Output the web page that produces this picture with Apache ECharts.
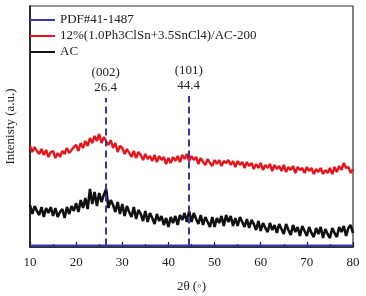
<!DOCTYPE html>
<html>
<head>
<meta charset="utf-8">
<script src="https://cdn.jsdelivr.net/npm/echarts@6/dist/echarts.min.js"></script>
<style>
  html, body { margin: 0; padding: 0; background: #fff; }
  #chart { width: 366px; height: 296px; }
</style>
</head>
<body>
<div id="chart"></div>
<script>
// intensities in arbitrary units, sampled every 0.5 degree from 10 to 80
const redIntensity = [
  101, 95, 100, 96, 93, 98, 92, 97, 90, 95,
  96, 89, 94, 90, 96, 93, 99, 94, 97, 100,
  102, 96, 104, 99, 106, 101, 109, 104, 111, 106,
  113, 104, 110, 106, 102, 107, 99, 104, 95, 101,
  99, 93, 98, 94, 90, 96, 89, 95, 92, 87,
  93, 88, 91, 86, 92, 85, 91, 87, 90, 83,
  89, 84, 90, 86, 91, 85, 92, 88, 93, 86,
  91, 87, 90, 83, 89, 85, 82, 88, 84, 81,
  87, 83, 87, 81, 86, 84, 87, 82, 86, 80,
  86, 82, 85, 79, 85, 81, 84, 78, 83, 79,
  84, 77, 82, 79, 83, 76, 82, 78, 81, 76,
  82, 75, 80, 77, 81, 74, 80, 77, 79, 74,
  80, 76, 79, 73, 78, 75, 79, 73, 77, 74,
  79, 73, 80, 75, 81, 77, 84, 79, 80, 74,
  78
]
const blackIntensity = [
  42, 33, 41, 36, 32, 40, 30, 39, 34, 40,
  31, 39, 30, 35, 38, 29, 40, 33, 41, 36,
  44, 35, 47, 39, 49, 38, 58, 43, 55, 41,
  54, 45, 52, 58, 39, 47, 42, 35, 45, 33,
  43, 31, 41, 35, 30, 40, 28, 37, 33, 26,
  36, 25, 34, 29, 23, 33, 26, 31, 22, 29,
  20, 30, 24, 31, 22, 32, 27, 34, 25, 36,
  25, 34, 28, 23, 32, 22, 30, 25, 20, 30,
  20, 29, 24, 31, 21, 32, 25, 31, 21, 29,
  21, 30, 25, 20, 28, 19, 27, 23, 17, 26,
  16, 24, 19, 15, 24, 17, 22, 14, 23, 18,
  13, 23, 17, 12, 22, 15, 20, 11, 21, 16,
  11, 20, 14, 10, 19, 13, 20, 9, 18, 13,
  9, 19, 14, 10, 20, 15, 21, 11, 19, 22,
  14
]
const twoTheta = redIntensity.map((_, i) => 10 + i * 0.5)

const pdfBaseline = [[10, 1.5], [80, 1.5]]
const pdfPeaks = [
  { pos: 26.4, top: 149, label: '(002)\n26.4' },
  { pos: 44.4, top: 151, label: '(101)\n44.4' },
]

const PDF_COLOR = '#3438b8'
const RED_COLOR = '#e8141c'
const BLACK_COLOR = '#111111'
const FONT = '"Liberation Serif", "Times New Roman", serif'

const chart = echarts.init(document.getElementById('chart'))
chart.setOption({
  animation: false,
  textStyle: { fontFamily: FONT },
  grid: {
    left: 30,
    right: 13,
    top: 6,
    bottom: 49,
    outerBoundsMode: 'none',
    show: true,
    borderColor: '#333',
    borderWidth: 1.2,
  },
  legend: {
    orient: 'vertical',
    left: 30,
    top: 12,
    padding: 0,
    icon: 'rect',
    itemWidth: 25,
    itemHeight: 2,
    itemGap: 0,
    textStyle: { fontFamily: FONT, fontSize: 13, color: '#222', lineHeight: 16 },
    data: ['PDF#41-1487', '12%(1.0Ph3ClSn+3.5SnCl4)/AC-200', 'AC'],
  },
  xAxis: {
    type: 'value',
    min: 10,
    max: 80,
    interval: 10,
    name: '2θ (◦)',
    nameLocation: 'middle',
    nameGap: 33,
    nameTextStyle: { fontFamily: FONT, fontSize: 13, color: '#222' },
    axisLine: { lineStyle: { color: '#111', width: 1.5 } },
    axisTick: { inside: true, length: 5, lineStyle: { color: '#111', width: 1.2 } },
    minorTick: { show: true, splitNumber: 2, length: 3, lineStyle: { color: '#111', width: 1.2 } },
    axisLabel: { fontFamily: FONT, fontSize: 13, color: '#222', margin: 9 },
    splitLine: { show: false },
  },
  yAxis: {
    type: 'value',
    min: 0,
    max: 241,
    name: 'Intenisty (a.u.)',
    nameLocation: 'middle',
    nameGap: 13,
    nameTextStyle: { fontFamily: FONT, fontSize: 13, color: '#222' },
    axisLine: { show: true, lineStyle: { color: '#111', width: 1.5 } },
    axisTick: { show: false },
    axisLabel: { show: false },
    splitLine: { show: false },
  },
  series: [
    {
      name: 'PDF#41-1487',
      type: 'line',
      symbol: 'none',
      data: pdfBaseline,
      lineStyle: { color: PDF_COLOR, width: 2 },
      itemStyle: { color: PDF_COLOR },
      z: 4,
      markLine: {
        silent: true,
        symbol: 'none',
        lineStyle: { color: PDF_COLOR, width: 2, type: [7, 4] },
        label: {
          show: true,
          position: 'end',
          distance: 3,
          fontFamily: FONT,
          fontSize: 13,
          lineHeight: 15,
          color: '#222',
          formatter: (p) => p.data.labelText,
        },
        data: pdfPeaks.map((pk) => [
          { coord: [pk.pos, 1.5], labelText: pk.label },
          { coord: [pk.pos, pk.top], labelText: pk.label },
        ]),
      },
    },
    {
      name: '12%(1.0Ph3ClSn+3.5SnCl4)/AC-200',
      type: 'line',
      symbol: 'none',
      data: twoTheta.map((x, i) => [x, redIntensity[i]]),
      lineStyle: { color: RED_COLOR, width: 2.4 },
      itemStyle: { color: RED_COLOR },
      z: 2,
    },
    {
      name: 'AC',
      type: 'line',
      symbol: 'none',
      data: twoTheta.map((x, i) => [x, blackIntensity[i]]),
      lineStyle: { color: BLACK_COLOR, width: 2.6 },
      itemStyle: { color: BLACK_COLOR },
      z: 3,
    },
  ],
})
</script>
</body>
</html>
